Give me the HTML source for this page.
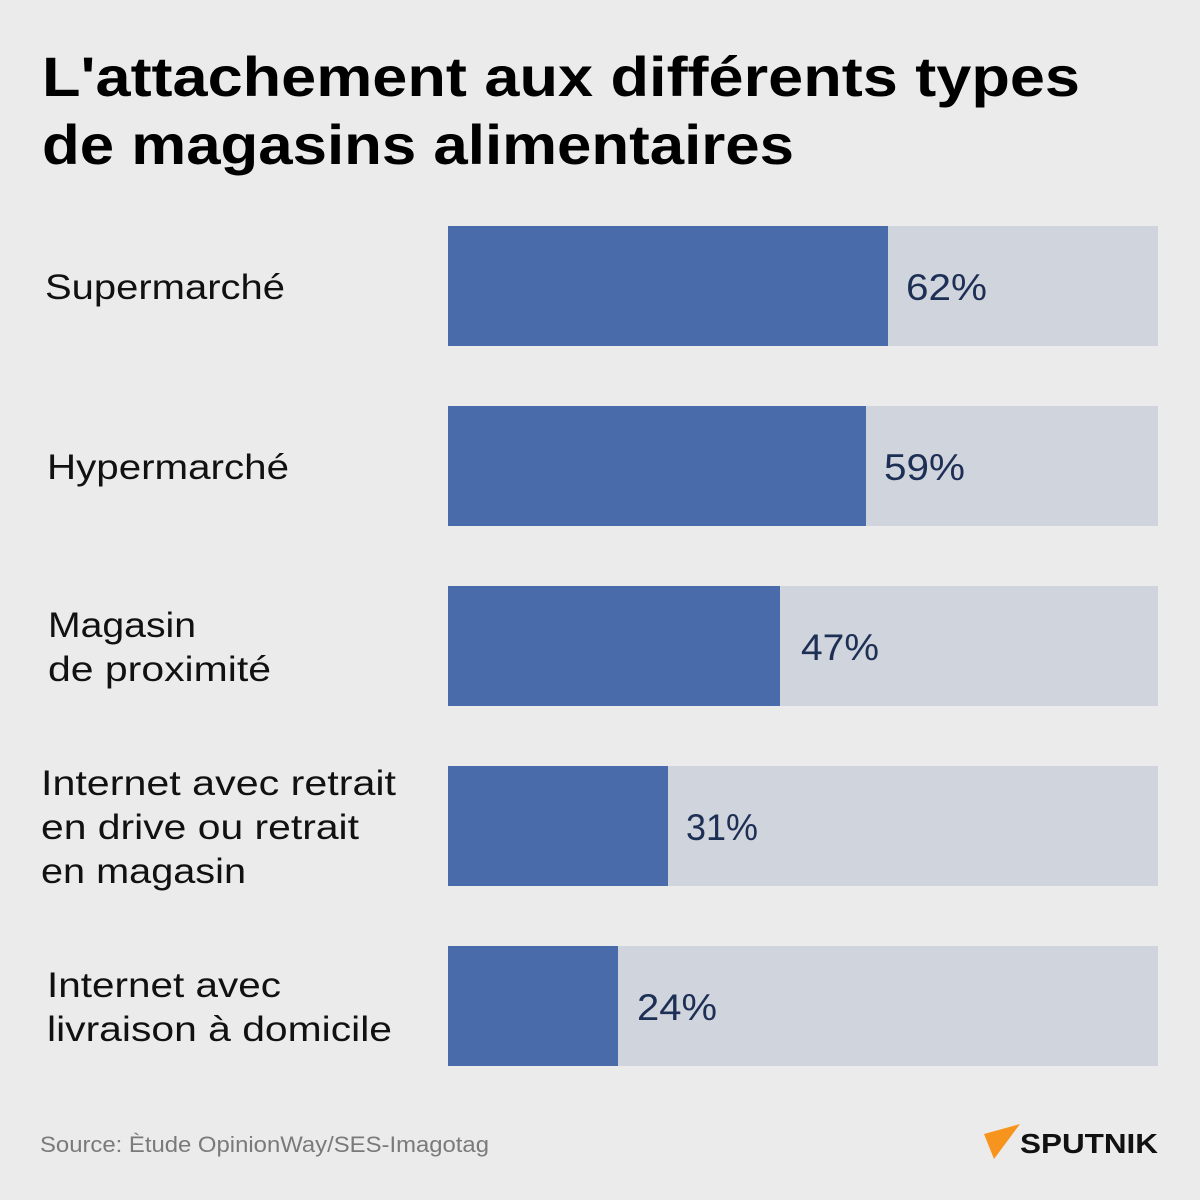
<!DOCTYPE html>
<html><head><meta charset="utf-8"><style>
html,body{margin:0;padding:0;background:#ebebeb}
svg{display:block}
</style></head><body>
<svg width="1200" height="1200" viewBox="0 0 1200 1200" xmlns="http://www.w3.org/2000/svg" font-family="Liberation Sans, sans-serif">
<rect width="1200" height="1200" fill="#ebebeb"/>
<g font-weight="bold" font-size="56" fill="#000">
<text x="42" y="96" textLength="1038" lengthAdjust="spacingAndGlyphs">L'attachement aux différents types</text>
<text x="42" y="164" textLength="752" lengthAdjust="spacingAndGlyphs">de magasins alimentaires</text>
</g>
<g fill="#d0d4dd">
<rect x="448" y="226" width="710" height="120"/>
<rect x="448" y="406" width="710" height="120"/>
<rect x="448" y="586" width="710" height="120"/>
<rect x="448" y="766" width="710" height="120"/>
<rect x="448" y="946" width="710" height="120"/>
</g>
<g fill="#4a6baa">
<rect x="448" y="226" width="440" height="120"/>
<rect x="448" y="406" width="418" height="120"/>
<rect x="448" y="586" width="332" height="120"/>
<rect x="448" y="766" width="220" height="120"/>
<rect x="448" y="946" width="170" height="120"/>
</g>
<g font-size="37" fill="#1e2f55">
<text x="906" y="300" textLength="81" lengthAdjust="spacingAndGlyphs">62%</text>
<text x="884" y="480" textLength="81" lengthAdjust="spacingAndGlyphs">59%</text>
<text x="801" y="660" textLength="78" lengthAdjust="spacingAndGlyphs">47%</text>
<text x="686" y="840" textLength="72" lengthAdjust="spacingAndGlyphs">31%</text>
<text x="637" y="1020" textLength="80" lengthAdjust="spacingAndGlyphs">24%</text>
</g>
<g font-size="35" fill="#111">
<text x="45" y="299" textLength="240" lengthAdjust="spacingAndGlyphs">Supermarché</text>
<text x="47" y="479" textLength="242" lengthAdjust="spacingAndGlyphs">Hypermarché</text>
<text x="48" y="637" textLength="148" lengthAdjust="spacingAndGlyphs">Magasin</text>
<text x="48" y="681" textLength="223" lengthAdjust="spacingAndGlyphs">de proximité</text>
<text x="41" y="795" textLength="355" lengthAdjust="spacingAndGlyphs">Internet avec retrait</text>
<text x="41" y="839" textLength="318" lengthAdjust="spacingAndGlyphs">en drive ou retrait</text>
<text x="41" y="883" textLength="205" lengthAdjust="spacingAndGlyphs">en magasin</text>
<text x="47" y="997" textLength="234" lengthAdjust="spacingAndGlyphs">Internet avec</text>
<text x="47" y="1041" textLength="345" lengthAdjust="spacingAndGlyphs">livraison à domicile</text>
</g>
<text x="40" y="1152" font-size="22" fill="#7a7a7a" textLength="449" lengthAdjust="spacingAndGlyphs">Source: Ètude OpinionWay/SES-Imagotag</text>
<polygon points="984,1134 1020,1124 994,1159" fill="#f7941d"/>
<text x="1020" y="1153" font-size="28" font-weight="bold" fill="#111" textLength="138" lengthAdjust="spacingAndGlyphs">SPUTNIK</text>
</svg>
</body></html>
